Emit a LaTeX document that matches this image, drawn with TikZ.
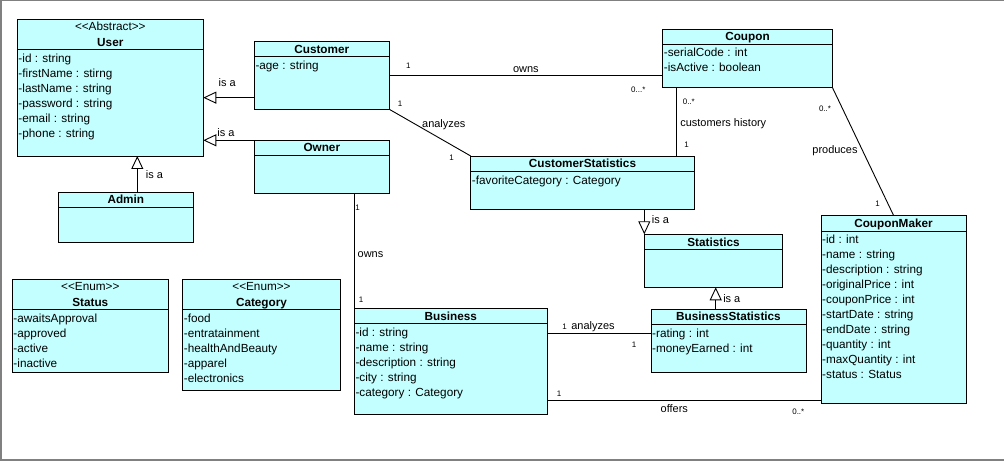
\documentclass[tikz,border=0pt]{standalone}
\usepackage{fontspec}
\setmainfont{Liberation Sans}
\usetikzlibrary{arrows.meta,calc}
\definecolor{clsfill}{RGB}{196,255,255}
\definecolor{framegray}{RGB}{128,128,128}
\tikzset{
  clsbox/.style={draw=black, fill=clsfill, line width=0.9bp, anchor=north west, inner sep=0pt, outer sep=0pt},
  clsname/.style={font=\fontsize{11.8}{14}\selectfont\bfseries, inner sep=0pt, anchor=base, yshift=-4.2bp},
  stereo/.style={font=\fontsize{11.8}{14}\selectfont, inner sep=0pt, anchor=base, yshift=-4.2bp},
  attr/.style={font=\fontsize{11.8}{14}\selectfont, inner sep=0pt, anchor=base west, yshift=-3.3bp},
  lbl/.style={font=\fontsize{11}{13}\selectfont, inner sep=0pt, anchor=base, yshift=-3.3bp},
  mult/.style={font=\fontsize{8}{9.5}\selectfont, inner sep=0pt, anchor=base, yshift=-2.9bp},
  conn/.style={draw=black, line width=0.9bp},
  gen/.style={conn, -{Triangle[length=13bp, width=12bp, fill=white, line width=0.9bp]}},
  sepline/.style={draw=black, line width=0.9bp},
}
\newcommand\umlclass[6]{% name, left, top, right, bottom, sep y
  \node[clsbox, minimum width={(#4-#2)*1bp}, minimum height={(#5-#3)*1bp}] (#1) at (#2,#3) {};
  \draw[sepline] (#2,#6) -- (#4,#6);
}
\newcommand\attrlist[4]{% prefix, x, first y, list
  \foreach \t [count=\i] in {#4} {
    \node[attr] (#1-\i) at (#2, {#3+15*(\i-1)}) {\t};
  }
}
\begin{document}
\begin{tikzpicture}[x=1bp, y=-1bp]
\useasboundingbox (0,0) rectangle (1004,461);
% frame
\draw[framegray, line width=1.5bp] (0,0.7) -- (1004,0.7);
\draw[framegray, line width=2bp] (1,0) -- (1,461);
\draw[framegray, line width=1.2bp] (0,460) -- (1004,460);

% ---------- classes ----------
\umlclass{user}{17.3}{19.3}{203.3}{156}{49.3}
\node[stereo] (user-st) at (110.3,26.7) {<{}<Abstract>{}>};
\node[clsname] (user-name) at (110.3,42.3) {User};
\attrlist{user-a}{18.3}{59.3}{-id : string,-firstName : stirng,-lastName : string,-password : string,-email : string,-phone : string}

\umlclass{customer}{254.3}{41.3}{389.3}{109.3}{56.7}
\node[clsname] (customer-name) at (321.8,49) {Customer};
\attrlist{customer-a}{255.3}{66.3}{-age : string}

\umlclass{owner}{254.3}{140.3}{389.3}{193.3}{155.3}
\node[clsname] (owner-name) at (321.8,147.7) {Owner};

\umlclass{admin}{58.3}{192.3}{193.3}{242.3}{207.3}
\node[clsname] (admin-name) at (125.8,199.8) {Admin};

\umlclass{status}{12.3}{279.3}{168.3}{372.3}{309.3}
\node[stereo] (status-st) at (90.3,286.7) {<{}<Enum>{}>};
\node[clsname] (status-name) at (90.3,302) {Status};
\attrlist{status-a}{13.3}{319.3}{-awaitsApproval,-approved,-active,-inactive}

\umlclass{category}{182.7}{279.3}{340.3}{390}{309.3}
\node[stereo] (category-st) at (261.5,286.7) {<{}<Enum>{}>};
\node[clsname] (category-name) at (261.5,302) {Category};
\attrlist{category-a}{183.7}{319.3}{-food,-entratainment,-healthAndBeauty,-apparel,-electronics}

\umlclass{coupon}{662.7}{29.3}{832.3}{87.3}{44}
\node[clsname] (coupon-name) at (747.5,36.7) {Coupon};
\attrlist{coupon-a}{663.7}{53.3}{-serialCode : int,-isActive : boolean}

\umlclass{custstats}{470.7}{156}{694.3}{209.3}{171.7}
\node[clsname] (custstats-name) at (582.5,163.7) {CustomerStatistics};
\attrlist{custstats-a}{471.7}{181.7}{-favoriteCategory : Category}

\umlclass{stats}{644.3}{234.3}{782.7}{287.3}{249.3}
\node[clsname] (stats-name) at (713.5,242.3) {Statistics};

\umlclass{bstats}{651}{309.3}{806}{372.3}{324.3}
\node[clsname] (bstats-name) at (728.5,316.7) {BusinessStatistics};
\attrlist{bstats-a}{652}{334}{-rating : int,-moneyEarned : int}

\umlclass{business}{354.3}{308.3}{547.3}{414}{323.3}
\node[clsname] (business-name) at (450.8,316) {Business};
\attrlist{business-a}{355.3}{333.3}{-id : string,-name : string,-description : string,-city : string,-category : Category}

\umlclass{maker}{821}{215.3}{966}{403.3}{231}
\node[clsname] (maker-name) at (893.5,223.3) {CouponMaker};
\attrlist{maker-a}{822}{240.3}{-id : int,-name : string,-description : string,-originalPrice : int,-couponPrice : int,-startDate : string,-endDate : string,-quantity : int,-maxQuantity : int,-status : Status}

% ---------- reference coordinates ----------
\coordinate (ua) at ([yshift=-10bp]user.east);
\coordinate (ad) at ([xshift=11.5bp]admin.north);
\coordinate (cpx) at ([xshift=14bp]coupon.south west);
\coordinate (bsx) at ([xshift=2.2bp]stats.south);
\coordinate (bay) at (0,333.3);
\coordinate (ofy) at (0,400.7);

% ---------- connectors ----------
\draw[gen] (customer.west |- ua) -- (ua);
\node[lbl] (isa1) at (227.2,83) {is a};

\draw[gen] (owner.north west) -- (owner.north west -| user.east);
\node[lbl] (isa2) at (226,133) {is a};

\draw[gen] (ad) -- (ad |- user.south);
\node[lbl] (isa3) at (154.5,175) {is a};

\draw[conn] (customer.east) -- (customer.east -| coupon.west);
\node[mult] (m1) at (408.3,65.5) {1};
\node[lbl] (owns1) at (525.8,69) {owns};
\node[mult] (m2) at (638.3,89.3) {0...*};

\draw[conn] (customer.south east) -- (custstats.north west);
\node[mult] (m3) at (400,103.5) {1};
\node[lbl] (an1) at (443.8,124.3) {analyzes};
\node[mult] (m4) at (451.7,157.5) {1};

\draw[conn] (cpx) -- (cpx |- custstats.north);
\node[mult] (m5) at (688.8,101.7) {0..*};
\node[lbl] (hist) at (723.3,123.3) {customers history};
\node[mult] (m6) at (686.7,145) {1};

\draw[conn] (coupon.south east) -- (maker.north);
\node[mult] (m7) at (825,108.7) {0..*};
\node[lbl] (prod) at (835,150) {produces};
\node[mult] (m8) at (877.7,204) {1};

\draw[gen] (stats.north west |- custstats.south) -- (stats.north west);
\node[lbl] (isa4) at (660.5,220) {is a};

\draw[gen] (bsx |- bstats.north) -- (bsx);
\node[lbl] (isa5) at (731.8,299) {is a};

\draw[conn] (business.north west |- owner.south) -- (business.north west);
\node[mult] (m9) at (357.5,207.3) {1};
\node[lbl] (owns2) at (370.5,254.3) {owns};
\node[mult] (m10) at (361,300) {1};

\draw[conn] (business.east |- bay) -- (bstats.west |- bay);
\node[mult] (m11) at (564.5,326.7) {1};
\node[lbl] (an2) at (593,326.7) {analyzes};
\node[mult] (m12) at (634,344.3) {1};

\draw[conn] (business.east |- ofy) -- (maker.west |- ofy);
\node[mult] (m13) at (559,393.3) {1};
\node[lbl] (offers) at (674.3,408.7) {offers};
\node[mult] (m14) at (798.3,411.7) {0..*};
\end{tikzpicture}
\end{document}
